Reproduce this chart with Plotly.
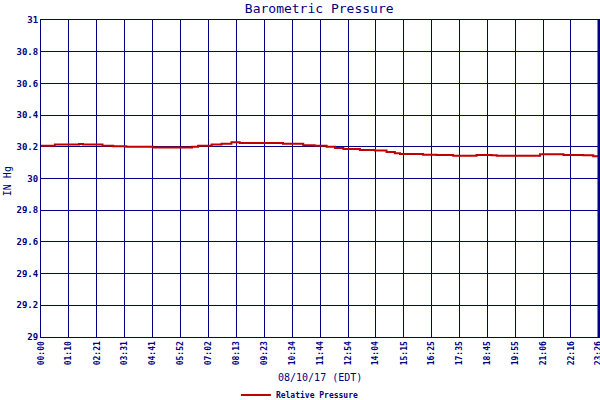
import plotly.graph_objects as go

# Readings of the day (local time, EDT), step-wise values
TIMES = ['00:00', '00:35', '01:12', '01:36', '01:46', '02:35', '03:02', '03:35',
         '04:42', '06:21', '06:36', '07:10', '07:35', '08:00', '08:21', '09:54',
         '10:10', '11:01', '11:30', '12:00', '12:21', '12:42', '13:24', '14:02',
         '14:31', '14:52', '15:05', '16:03', '16:37', '17:19', '18:18', '18:56',
         '19:09', '19:55', '20:58', '21:57', '22:47', '23:12', '23:26']
PRESSURE = [30.207, 30.214, 30.214, 30.218, 30.214, 30.207, 30.203, 30.200,
            30.196, 30.201, 30.207, 30.214, 30.220, 30.228, 30.224, 30.224,
            30.220, 30.210, 30.207, 30.201, 30.193, 30.186, 30.180, 30.176,
            30.167, 30.159, 30.155, 30.150, 30.148, 30.144, 30.148, 30.146,
            30.143, 30.144, 30.153, 30.148, 30.146, 30.140, 30.140]

# x axis tick labels
TICK_LABELS = ['00:00', '01:10', '02:21', '03:31', '04:41', '05:52', '07:02',
               '08:13', '09:23', '10:34', '11:44', '12:54', '14:04', '15:15',
               '16:25', '17:35', '18:45', '19:55', '21:06', '22:16', '23:26']
Y_TICKS = [29, 29.2, 29.4, 29.6, 29.8, 30, 30.2, 30.4, 30.6, 30.8, 31]

NAVY = '#000080'
FONT = 'DejaVu Sans Mono'


def to_min(s):
    h, m = s.split(':')
    return int(h) * 60 + int(m)


x_min = [to_min(t) for t in TIMES]
tick_pos = [to_min(t) for t in TICK_LABELS]

fig = go.Figure()
fig.add_trace(
    go.Scatter(
        x=x_min,
        y=PRESSURE,
        name='Relative Pressure',
        mode='lines',
        line=dict(color='#C00000', width=2, shape='hv'),
    )
)

fig.update_layout(
    width=600,
    height=400,
    margin=dict(l=41, r=1, t=20, b=63, autoexpand=False),
    paper_bgcolor='white',
    plot_bgcolor='white',
    font=dict(family=FONT, color=NAVY),
    title=dict(
        text='Barometric Pressure',
        xref='container',
        x=0.532, xanchor='center',
        y=0.98, yanchor='middle',
        font=dict(family=FONT, size=13, color=NAVY),
    ),
    xaxis=dict(
        range=[0, tick_pos[-1] + 0.6],
        tickmode='array',
        tickvals=tick_pos,
        ticktext=TICK_LABELS,
        tickangle=-90,
        tickfont=dict(family=FONT, size=8, color=NAVY, weight='bold'),
        ticklabeloverflow='allow',
        showgrid=True,
        gridcolor=NAVY,
        gridwidth=1,
        zeroline=False,
        showline=True,
        linecolor=NAVY,
        linewidth=1,
        mirror=True,
        ticks='',
        automargin=False,
    ),
    yaxis=dict(
        range=[29, 31],
        tickmode='array',
        tickvals=Y_TICKS,
        ticktext=[('%g' % v) for v in Y_TICKS],
        tickfont=dict(family=FONT, size=9, color=NAVY, weight='bold'),
        showgrid=True,
        gridcolor=NAVY,
        gridwidth=1,
        zeroline=False,
        showline=True,
        linecolor=NAVY,
        linewidth=1,
        mirror=True,
        ticks='',
        automargin=False,
    ),
    showlegend=True,
    legend=dict(
        orientation='h',
        x=0.464, xanchor='center',
        y=-0.183, yanchor='middle',
        itemwidth=30,
        font=dict(family=FONT, size=8, color=NAVY, weight='bold'),
        bgcolor='rgba(0,0,0,0)',
    ),
    annotations=[
        dict(
            text='08/10/17 (EDT)',
            xref='paper', yref='paper',
            x=0.5, y=-0.129,
            xanchor='center', yanchor='middle',
            showarrow=False,
            font=dict(family=FONT, size=10, color=NAVY),
        ),
        dict(
            text='IN Hg',
            xref='paper', yref='paper',
            x=-0.06, y=0.49,
            xanchor='center', yanchor='middle',
            textangle=-90,
            showarrow=False,
            font=dict(family=FONT, size=10, color=NAVY),
        ),
    ],
    # thick right border like the original
    shapes=[
        dict(
            type='line', xref='paper', yref='paper',
            x0=1, x1=1, y0=0, y1=1,
            line=dict(color=NAVY, width=3),
        )
    ],
)

# page body has an 8px default margin, drop it so the chart fills the window
fig.write_html('out.html', config={'displayModeBar': False},
               post_script="document.body.style.margin='0';")
